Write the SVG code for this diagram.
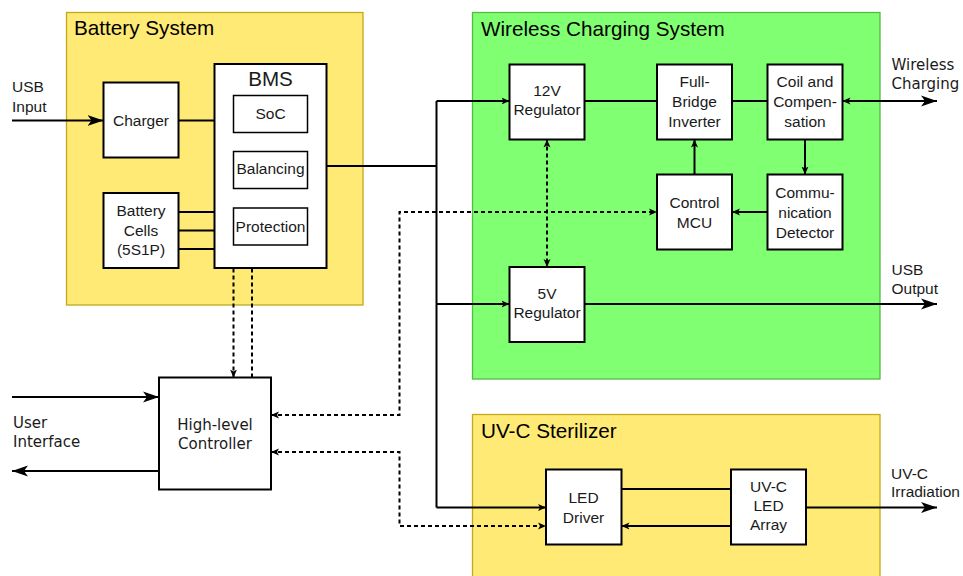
<svg xmlns="http://www.w3.org/2000/svg" width="963" height="576" viewBox="0 0 963 576">
<style>
.yel{fill:#ffea75;stroke:#c4a81c;stroke-width:1.3}
.grn{fill:#80ff73;stroke:#55b848;stroke-width:1.3}
.box{fill:#ffffff;stroke:#000000;stroke-width:2}
.t{font-family:"Liberation Sans",Arial,sans-serif;font-size:15.5px;fill:#1a1a1a;text-anchor:middle}
.tl{font-family:"Liberation Sans",Arial,sans-serif;font-size:15.5px;fill:#1a1a1a}
.dv{font-family:"DejaVu Sans",sans-serif;font-size:15px;fill:#1a1a1a}
.ttl{font-family:"Liberation Sans",Arial,sans-serif;font-size:20.7px;fill:#000000}
.ln{fill:none;stroke:#000000;stroke-width:2}
.ds{fill:none;stroke:#000000;stroke-width:2;stroke-dasharray:4 3}
</style>
<defs>
<marker id="sa" viewBox="0 0 8 8" refX="8" refY="4" markerWidth="8" markerHeight="8" markerUnits="userSpaceOnUse" orient="auto-start-reverse">
<path d="M0,0.5 L8,4 L0,7.5 L2,4 z" fill="#000"/>
</marker>
<marker id="la" viewBox="0 0 16 12" refX="16" refY="6" markerWidth="16" markerHeight="12" markerUnits="userSpaceOnUse" orient="auto-start-reverse">
<path d="M0,0.5 L16,6 L0,11.5 L4,6 z" fill="#000"/>
</marker>
</defs>

<g id="battery-system">
<rect class="yel" x="66.5" y="12.5" width="296.5" height="292.5"/>
<text class="ttl" x="74" y="35">Battery System</text>
</g>
<g id="wireless-charging-system">
<rect class="grn" x="472.5" y="12.5" width="407.5" height="366.5"/>
<text class="ttl" x="481" y="35.5">Wireless Charging System</text>
</g>
<g id="uvc-sterilizer">
<rect class="yel" x="472.5" y="414.5" width="407.5" height="170"/>
<text class="ttl" x="481" y="438">UV-C Sterilizer</text>
</g>

<g id="connectors">
<!-- power -->
<path class="ln" d="M12,120.5 L103.5,120.5" marker-end="url(#la)"/>
<path class="ln" d="M178.5,120.5 L214.5,120.5"/>
<path class="ln" d="M178.5,212 L214.5,212 M178.5,230.5 L214.5,230.5 M178.5,249 L214.5,249"/>
<path class="ln" d="M326.5,166 L436.5,166"/>
<path class="ln" d="M436.5,101 L436.5,507.5"/>
<path class="ln" d="M436.5,101 L509.5,101" marker-end="url(#sa)"/>
<path class="ln" d="M436.5,304 L509.5,304" marker-end="url(#sa)"/>
<path class="ln" d="M436.5,507.5 L546,507.5" marker-end="url(#sa)"/>
<path class="ln" d="M584.5,101 L657,101 M732,101 L767.5,101"/>
<path class="ln" d="M842.5,101 L937,101" marker-start="url(#sa)" marker-end="url(#la)"/>
<path class="ln" d="M805,139.5 L805,174.5" marker-end="url(#sa)"/>
<path class="ln" d="M694.5,174.5 L694.5,139.5" marker-end="url(#sa)"/>
<path class="ln" d="M767.5,212 L732,212" marker-end="url(#sa)"/>
<path class="ln" d="M584.5,304 L937,304" marker-end="url(#la)"/>
<path class="ln" d="M621.5,489 L731,489"/>
<path class="ln" d="M731,526 L621.5,526" marker-end="url(#sa)"/>
<path class="ln" d="M806,507.5 L937,507.5" marker-end="url(#la)"/>
<path class="ln" d="M12,397 L159,397" marker-end="url(#la)"/>
<path class="ln" d="M159,471 L12,471" marker-end="url(#la)"/>
<!-- signals -->
<path class="ds" d="M547,139.5 L547,267" marker-start="url(#sa)" marker-end="url(#sa)"/>
<path class="ds" d="M233.5,268.5 L233.5,377.5" marker-end="url(#sa)"/>
<path class="ds" d="M252,268.5 L252,377.5"/>
<path class="ds" d="M271,415 L399.5,415 L399.5,212 L657,212" marker-start="url(#sa)" marker-end="url(#sa)"/>
<path class="ds" d="M271,452 L399.5,452 L399.5,526 L546,526" marker-start="url(#sa)" marker-end="url(#sa)"/>
</g>

<g id="charger">
<rect class="box" x="103.5" y="82.5" width="75" height="75"/>
<text class="t" x="141" y="125.5">Charger</text>
</g>
<g id="battery-cells">
<rect class="box" x="103.5" y="193" width="75" height="75"/>
<text class="t" x="141" y="216">Battery</text>
<text class="t" x="141" y="235.5">Cells</text>
<text class="t" x="141" y="254.5">(5S1P)</text>
</g>
<g id="bms">
<rect class="box" x="214.5" y="64" width="112" height="204"/>
<text class="t" x="270.5" y="86" style="font-size:20.6px">BMS</text>
</g>
<g id="soc">
<rect class="box" x="233.5" y="95.5" width="74" height="37" style="stroke-width:1.5"/>
<text class="t" x="270.5" y="119">SoC</text>
</g>
<g id="balancing">
<rect class="box" x="233.5" y="151.5" width="74" height="37" style="stroke-width:1.5"/>
<text class="t" x="270.5" y="174">Balancing</text>
</g>
<g id="protection">
<rect class="box" x="233.5" y="208" width="74" height="37" style="stroke-width:1.5"/>
<text class="t" x="270.5" y="232">Protection</text>
</g>
<g id="regulator-12v">
<rect class="box" x="509.5" y="64.5" width="75" height="75"/>
<text class="t" x="547" y="96">12V</text>
<text class="t" x="547" y="115">Regulator</text>
</g>
<g id="full-bridge-inverter">
<rect class="box" x="657" y="64.5" width="75" height="75"/>
<text class="t" x="694.5" y="87.3">Full-</text>
<text class="t" x="694.5" y="107.3">Bridge</text>
<text class="t" x="694.5" y="127.3">Inverter</text>
</g>
<g id="coil-compensation">
<rect class="box" x="767.5" y="64.5" width="75" height="75"/>
<text class="t" x="805" y="87.3">Coil and</text>
<text class="t" x="805" y="107.3">Compen-</text>
<text class="t" x="805" y="127.3">sation</text>
</g>
<g id="control-mcu">
<rect class="box" x="657" y="174.5" width="75" height="75"/>
<text class="t" x="694.5" y="208.3">Control</text>
<text class="t" x="694.5" y="228">MCU</text>
</g>
<g id="communication-detector">
<rect class="box" x="767.5" y="174.5" width="75" height="75"/>
<text class="t" x="805" y="198.3">Commu-</text>
<text class="t" x="805" y="218.3">nication</text>
<text class="t" x="805" y="238.3">Detector</text>
</g>
<g id="regulator-5v">
<rect class="box" x="509.5" y="267" width="75" height="75"/>
<text class="t" x="547" y="299">5V</text>
<text class="t" x="547" y="318.3">Regulator</text>
</g>
<g id="high-level-controller">
<rect class="box" x="159" y="377.5" width="112" height="112"/>
<text class="dv" x="215" y="430" text-anchor="middle">High-level</text>
<text class="dv" x="215" y="449" text-anchor="middle">Controller</text>
</g>
<g id="led-driver">
<rect class="box" x="546" y="469.5" width="75.5" height="75"/>
<text class="t" x="583.5" y="503.3">LED</text>
<text class="t" x="583.5" y="522.7">Driver</text>
</g>
<g id="uvc-led-array">
<rect class="box" x="731" y="469.5" width="75" height="75"/>
<text class="t" x="768.5" y="492.3">UV-C</text>
<text class="t" x="768.5" y="511">LED</text>
<text class="t" x="768.5" y="530">Array</text>
</g>

<g id="labels">
<text class="tl" x="12" y="92">USB</text>
<text class="tl" x="12" y="112.3">Input</text>
<text class="dv" x="891.5" y="70">Wireless</text>
<text class="dv" x="891.5" y="89.3">Charging</text>
<text class="tl" x="891.5" y="275">USB</text>
<text class="tl" x="891.5" y="294.3">Output</text>
<text class="dv" x="13" y="428.3">User</text>
<text class="dv" x="13" y="447.3">Interface</text>
<text class="tl" x="891" y="478.7">UV-C</text>
<text class="tl" x="891" y="497.3">Irradiation</text>
</g>
</svg>
